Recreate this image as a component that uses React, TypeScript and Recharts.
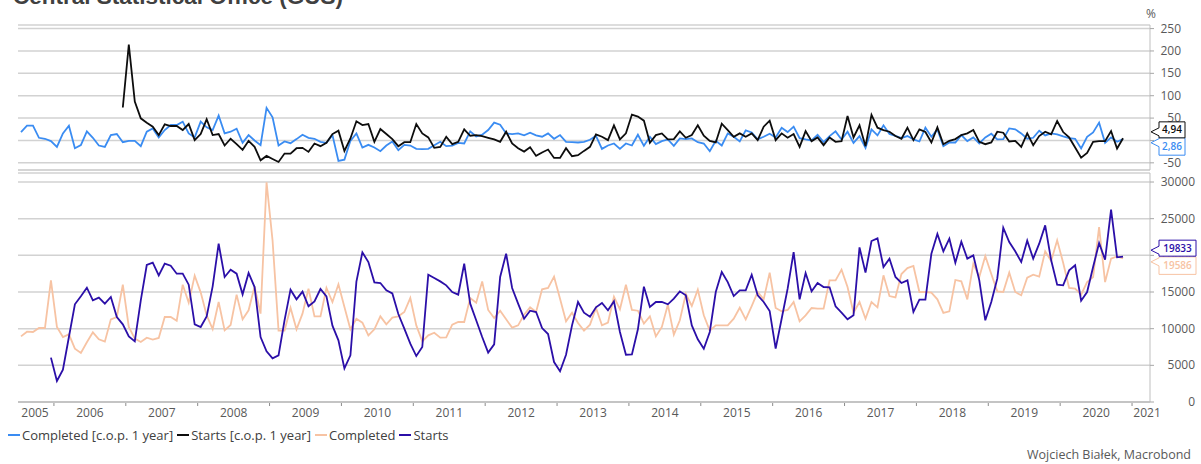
import React from "react";
import { LineChart, Line, XAxis, YAxis, CartesianGrid, ReferenceLine } from "recharts";

// months are counted from Jan 2005 (0); points sit mid-month
const FIRST_MONTH = 6; // Jul 2005
const STARTS_FROM = 11; // Dec 2005
const STARTS_YOY_FROM = 23; // Dec 2006

const completedYoY = [
  18.8, 33, 33, 6, 3.8, -1.5,
  -14.3, 15.8, 33, -17.3, -10.5, 20.3, 6, -11.3, -14.3, 12, 14.3, -3.8,
  -0.8, -0.8, -12.8, 19.5, 27, 6.8, 23.3, 34.5, 34.5, 42, 15.8, 6.8,
  42, 29.3, 23.3, 55.6, 15.8, 19.5, 26.3, -5.3, 12, 0, -10.5, 72.8,
  51.8, -11.3, -2.3, -6, 3, 12.8, 6, 3.8, -3, -5.3, 12, -45.8,
  -42.8, -0.8, 15.8, -15.8, -9.8, -15.8, -24, -11.3, -2.3, -21.8, -9.8, -11.3,
  -18.8, -19.5, -18.8, -10.5, -3, -12.8, -11.3, -5.3, -6.8, 20.3, 9, 12.8,
  23.3, 39.8, 35.3, 15.8, 14.3, 15.8, 11.3, 17.3, 11.3, 8.3, 15.8, 3.8,
  12, -3, -3.8, -4.5, -3, 1.5, 10.5, -18.8, -11.3, -6.8, -18.8, -6.8,
  -11.3, 12.8, -12, 8.3, -8.3, -1.5, 2.3, -12, 4.5, 3, 4.5, -3.8,
  -6.8, -24, -0.8, -11.3, 15.8, 8.3, -2.3, 22.5, 18, 2.3, 8.3, 15,
  6.8, 28.5, 18.8, 30.8, 5.3, 2.3, 0, 12.8, -3.8, 9.8, 20.3, 2.3,
  19.5, -5.3, 9.8, -16.5, 24.8, 11.3, 33.8, 14.3, 10.5, 5.3, 9.8, 2.3,
  -2.3, 28.5, 8.3, 24.8, -12.8, -4.5, -4.5, 12, -1.5, 6.8, -6.8, 6.8,
  15, 2.3, 3, 27, 24.8, 15.8, 3.8, 6, 21.8, 11.3, 15.8, 13.5,
  9, 5.3, 3.8, -18, 8.3, 18, 39.8, -5.3, 6.8, -3, 2.86,
];

const startsYoY = [
  73.6,
  214, 87, 49.5, 39.8, 30.8, 12, 36, 32.3, 32.3, 23.3, 36.8, 0.8,
  14.3, 47.3, 12, 14.3, -11.3, 3.8, -8.3, -21, -0.8, -14.3, -44.3, -34.5,
  -41.3, -48, -29.3, -29.3, -17.3, -16.5, -25.5, -6.8, -12.8, -5.3, 14.3, 21.8,
  -23.3, 4.5, 42.8, 34.5, 36.8, -3, 25.5, 14.3, 3, -12.8, -3.8, -3.8,
  36.8, 15.8, 6.8, -16.5, -14.3, 8.3, -8.3, -3, 24.8, 10.5, 12, 9.8,
  6, 2.3, -3, 19.5, -6.8, -17.3, -24.8, -15, -34.5, -27, -20.3, -39,
  -39, -17.3, -35.3, -33, -23.3, -14.3, 13.5, 8.3, 0.8, 33.8, 2.3, 15.8,
  57.8, 53.3, 44.3, -5.3, 12, 15.8, 2.3, 3, 20.3, 6, 12, 33.8,
  10.5, -0.8, -4.5, 37.5, 23.3, 8.3, 15.8, 8.3, 15.8, 0.8, 30.8, 44.3,
  0.8, 15.8, 6, 14.3, -14.3, 21, -1.5, 6.8, -10.5, 6.8, -3, -1.5,
  54.8, 6.8, 33.8, -12.8, 57, 28.5, 23.3, 19.5, 9.8, 3.8, 28.5, 0.8,
  24.8, 18.8, -4.5, 29.3, -8.3, -0.8, 3, 12, 15.8, 23.3, -3, -8.3,
  -4.5, 19.5, 17.3, -2.3, -0.8, -14.3, 15.8, -10.5, 9.8, 19.5, 13.5, 43.5,
  18.8, 6.8, -15.8, -38.3, -27.8, -3, -1.5, -1.5, 21, -18, 4.94,
];

const completed = [
  8950, 9590, 9550, 10090, 10090, 16590,
  10230, 8860, 9230, 7270, 6680, 8140, 9500, 8550, 8230, 11270, 11590, 16000,
  10230, 8640, 8180, 8770, 8500, 8730, 11590, 11590, 11090, 16000, 13550, 17230,
  14950, 11820, 9950, 13640, 9770, 10500, 14640, 11270, 12500, 15770, 12050, 29950,
  22050, 9730, 9730, 12860, 9910, 12050, 15450, 11680, 11680, 15550, 13640, 16050,
  12950, 9910, 11360, 10820, 9090, 9910, 11680, 10590, 11500, 11680, 12270, 14180,
  10450, 8270, 9090, 9450, 8770, 8820, 10550, 10910, 10910, 14180, 13550, 16450,
  12550, 11450, 12450, 11270, 10140, 10450, 11910, 12910, 12270, 15360, 15550, 17090,
  14090, 11000, 12180, 10770, 9730, 10550, 12820, 10450, 10820, 14360, 12640, 16000,
  12550, 12450, 10680, 11680, 8950, 10230, 13270, 9180, 11140, 14730, 13090, 15320,
  11820, 9730, 10450, 10450, 10450, 11360, 12860, 11270, 13090, 15000, 14000, 17640,
  12820, 12360, 12550, 13640, 11000, 11820, 12820, 12730, 12730, 16590, 16590, 18050,
  15680, 12180, 13640, 11360, 13640, 12910, 17270, 14450, 14270, 17450, 18270, 18550,
  15000, 15000, 14910, 14000, 12140, 12360, 16640, 16450, 14000, 18860, 17050, 19910,
  17450, 15090, 15000, 17640, 15000, 14550, 16950, 17360, 17090, 20550, 19230, 22050,
  19000, 15550, 15450, 14640, 16360, 17050, 23860, 16360, 19550, 19860, 19586,
];

const starts = [
  6050,
  2860, 4410, 8860, 13320, 14410, 15590, 13860, 14230, 13410, 14320, 11590, 10590,
  8950, 8270, 13860, 18680, 19000, 17270, 18860, 18590, 17500, 17500, 16000, 10590,
  10230, 11680, 15770, 21590, 17050, 18050, 17500, 14680, 17590, 15680, 8860, 6910,
  5950, 6360, 11140, 15320, 14000, 15050, 13050, 13730, 15410, 14410, 10410, 8410,
  4590, 6360, 16410, 20410, 19090, 16320, 16230, 15230, 14800, 12000, 10000, 7950,
  6270, 7500, 17360, 16910, 16450, 15910, 15000, 14640, 18860, 13410, 11140, 8860,
  6730, 7860, 17050, 20230, 15550, 13410, 11360, 12450, 12270, 10090, 9270, 5450,
  4180, 6450, 10450, 13640, 12180, 11640, 12910, 13500, 12500, 13730, 9550, 6450,
  6500, 9910, 15730, 12950, 13640, 13640, 13320, 14090, 15090, 14550, 10450, 8550,
  7270, 9550, 15000, 17730, 16360, 14450, 15230, 15230, 17360, 14550, 13640, 12400,
  7270, 11360, 15450, 20450, 14000, 17590, 15090, 16230, 15680, 15640, 13050, 12180,
  11270, 11820, 21090, 17640, 21950, 22320, 18410, 19550, 17050, 16230, 16590, 12270,
  13950, 13950, 20230, 22910, 20550, 22270, 19000, 21860, 19550, 20000, 16590, 11140,
  13640, 16820, 23770, 21820, 20550, 19090, 22000, 19550, 21590, 24090, 19320, 16000,
  15910, 17950, 18640, 13820, 15000, 18410, 21680, 19410, 26230, 19730, 19833,
];

const yearTicks = [6, 12, 24, 36, 48, 60, 72, 84, 96, 108, 120, 132, 144, 156, 168, 180, 192];
const pctTicks = [-50, 0, 50, 100, 150, 200, 250];
const levelTicks = [0, 5000, 10000, 15000, 20000, 25000, 30000];

const C_BLUE = "#3a8cf2";
const C_BLACK = "#0d0d0d";
const C_PEACH = "#f7c3a3";
const C_NAVY = "#2b0fa8";

const legendItems = [
  { name: "Completed [c.o.p. 1 year]", color: C_BLUE },
  { name: "Starts [c.o.p. 1 year]", color: C_BLACK },
  { name: "Completed", color: C_PEACH },
  { name: "Starts", color: C_NAVY },
];

const rows = completed.map((v, i) => {
  const m = FIRST_MONTH + i;
  return {
    t: m + 0.5,
    completed: v,
    completedYoY: completedYoY[i],
    starts: m >= STARTS_FROM ? starts[m - STARTS_FROM] : null,
    startsYoY: m >= STARTS_YOY_FROM ? startsYoY[m - STARTS_YOY_FROM] : null,
  };
});
const lastIdx = rows.length - 1;

const W = 1201;
const AXIS_W = 51;
const PLOT_RIGHT = W - AXIS_W;
const FONT = '"Open Sans", sans-serif';
const GRID = "#d2d2d2";
const TEXT = "#595959";

const fmt = (v: number) => String(v).replace(".", ",");

const YearTick = (props: any) => {
  const { x, y, payload } = props;
  const v = payload.value;
  const style = { fontFamily: FONT, fontSize: 12, fill: TEXT };
  if (v === FIRST_MONTH) {
    return (
      <text x={x + 17} y={y + 15} textAnchor="middle" {...style}>
        2005
      </text>
    );
  }
  const year = 2005 + v / 12;
  const dx = year === 2021 ? 15 : 36;
  return (
    <g>
      <line x1={x} x2={x} y1={y + 1} y2={y + 4} stroke="#8c8c8c" />
      <text x={x + dx} y={y + 15} textAnchor="middle" {...style}>
        {year}
      </text>
    </g>
  );
};

const rightTick = (labelRight: number) => (props: any) => {
  const { x, y, payload } = props;
  return (
    <g>
      <line x1={x} x2={x + 4} y1={y} y2={y} stroke="#a6a6a6" />
      <text
        x={x + labelRight}
        y={y}
        dy={4}
        textAnchor="end"
        fontFamily={FONT}
        fontSize={12}
        fill={TEXT}
      >
        {payload.value}
      </text>
    </g>
  );
};

// value box with a small arrow pointing at the last point, drawn on the axis side
const callout = (text: string, color: string, upper: boolean, boxW: number) => (props: any) => {
  if (props.index !== lastIdx) return null;
  const h = upper ? 16 : 17.5;
  const top = upper ? props.y - 16.4 : props.y - 1.5;
  const tipY = upper ? top + 10 : top + 5;
  const bx = PLOT_RIGHT + 9;
  const d = `M${bx},${top} H${bx + boxW} V${top + h} H${bx} V${tipY + 4} L${bx - 8},${tipY} L${bx},${tipY - 4} Z`;
  return (
    <g>
      <path d={d} fill="#fff" stroke={color} strokeWidth={1} />
      <text
        x={bx + boxW / 2}
        y={top + h / 2}
        dy={3.5}
        textAnchor="middle"
        fontFamily={FONT}
        fontSize={10}
        fontWeight={600}
        fill={color}
      >
        {text}
      </text>
    </g>
  );
};

const App = () => {
  return (
    <div style={{ position: "relative", width: W, height: 464, background: "#fff", overflow: "hidden" }}>
      <style>{"body{margin:0}"}</style>
      <svg width={W} height={20} style={{ position: "absolute", left: 0, top: 0 }}>
        <text x={13} y={3.5} fontFamily='"Liberation Sans", Arial, sans-serif' fontWeight="bold" fontSize={22.5} fill="#404040">
          Central Statistical Office (GUS)
        </text>
      </svg>
      <div style={{ position: "absolute", left: 1146, top: 5, fontFamily: FONT, fontSize: 12, color: TEXT }}>%</div>

      <div style={{ position: "absolute", left: 0, top: 0 }}>
        <LineChart width={W} height={172} data={rows} margin={{ top: 25, right: 0, bottom: 2, left: 18 }}>
          <CartesianGrid vertical={false} stroke={GRID} strokeWidth={1.5} />
          <XAxis dataKey="t" type="number" domain={[FIRST_MONTH, 195]} hide />
          <YAxis
            orientation="right"
            width={AXIS_W}
            domain={[-66, 258]}
            ticks={pctTicks}
            interval={0}
            allowDataOverflow
            axisLine={{ stroke: "#bfbfbf" }}
            tickLine={false}
            tickSize={0}
            tickMargin={0}
            tick={rightTick(31)}
          />
          <ReferenceLine y={-66} stroke={GRID} strokeWidth={1.5} />
          <Line
            dataKey="completedYoY"
            stroke={C_BLUE}
            strokeWidth={1.8}
            dot={false}
            isAnimationActive={false}
            label={callout(fmt(completedYoY[completedYoY.length - 1]), C_BLUE, false, 26)}
          />
          <Line
            dataKey="startsYoY"
            stroke={C_BLACK}
            strokeWidth={1.8}
            dot={false}
            isAnimationActive={false}
            label={callout(fmt(startsYoY[startsYoY.length - 1]), C_BLACK, true, 26)}
          />
        </LineChart>
      </div>

      <div style={{ position: "absolute", left: 0, top: 150 }}>
        <LineChart width={W} height={275} data={rows} margin={{ top: 23, right: 0, bottom: 3, left: 18 }}>
          <CartesianGrid vertical={false} stroke={GRID} strokeWidth={1.5} />
          <XAxis
            dataKey="t"
            type="number"
            domain={[FIRST_MONTH, 195]}
            ticks={yearTicks}
            interval={0}
            height={20}
            axisLine={{ stroke: "#c4c4c4", strokeWidth: 2 }}
            tickLine={false}
            tickSize={0}
            tickMargin={0}
            tick={<YearTick />}
          />
          <YAxis
            orientation="right"
            width={AXIS_W}
            domain={[0, 31230]}
            ticks={levelTicks}
            interval={0}
            allowDataOverflow
            axisLine={{ stroke: "#bfbfbf" }}
            tickLine={false}
            tickSize={0}
            tickMargin={0}
            tick={rightTick(45)}
          />
          <Line
            dataKey="completed"
            stroke={C_PEACH}
            strokeWidth={1.8}
            dot={false}
            isAnimationActive={false}
            label={callout(String(completed[completed.length - 1]), C_PEACH, false, 37)}
          />
          <Line
            dataKey="starts"
            stroke={C_NAVY}
            strokeWidth={1.8}
            dot={false}
            isAnimationActive={false}
            label={callout(String(starts[starts.length - 1]), C_NAVY, true, 37)}
          />
        </LineChart>
      </div>

      <div
        style={{
          position: "absolute",
          left: 8,
          top: 427,
          display: "flex",
          fontFamily: FONT,
          fontSize: 13,
          lineHeight: "16px",
          color: "#404040",
          whiteSpace: "nowrap",
        }}
      >
        {legendItems.map((it) => (
          <div key={it.name} style={{ display: "flex", alignItems: "center", marginRight: 4 }}>
            <span style={{ display: "inline-block", width: 12, height: 2, background: it.color, marginRight: 2 }} />
            {it.name}
          </div>
        ))}
      </div>

      <div
        style={{
          position: "absolute",
          right: 10,
          top: 447,
          fontFamily: FONT,
          fontSize: 12.5,
          lineHeight: "16px",
          color: TEXT,
          whiteSpace: "nowrap",
        }}
      >
        Wojciech Białek, Macrobond
      </div>
    </div>
  );
};

export default App;
